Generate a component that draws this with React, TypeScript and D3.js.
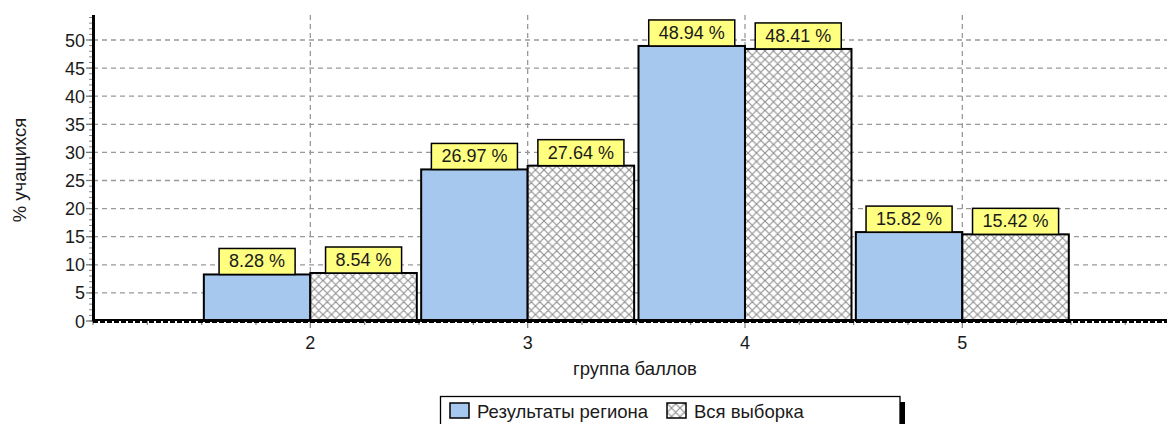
import React from "react";
import * as d3 from "d3";

const categories = [2, 3, 4, 5];
const regionValues = [8.28, 26.97, 48.94, 15.82];
const sampleValues = [8.54, 27.64, 48.41, 15.42];
const yTicks = [0, 5, 10, 15, 20, 25, 30, 35, 40, 45, 50];
const seriesNames = ["Результаты региона", "Вся выборка"];
const yTitle = "% учащихся";
const xTitle = "группа баллов";

const W = 1167;
const H = 424;
const FONT = "'Liberation Sans', Arial, sans-serif";

let ctx: CanvasRenderingContext2D | null = null;
function measure(t: string, size = 18) {
  if (!ctx) ctx = document.createElement("canvas").getContext("2d");
  if (!ctx) return t.length * size * 0.55;
  ctx.font = `${size}px 'Liberation Sans', Arial, sans-serif`;
  return ctx.measureText(t).width;
}

export default function App() {
  const x = d3.scaleLinear().domain([1, 6]).range([93, 93 + 5 * 217.33]);
  const y = d3.scaleLinear().domain([0, 50]).range([321, 40]);
  const yTop = y.invert(15);
  const bw = 217.33 * 0.49;
  const minorX = d3.range(1, 6.01, 0.25);
  const minorY = d3.range(0, Math.floor(yTop) + 1, 1);

  const label = (v: number, cx: number, key: string) => {
    const t = `${v.toFixed(2)} %`;
    const w = measure(t) + 20;
    const top = y(v);
    return (
      <g key={key}>
        <rect x={cx - w / 2} y={top - 26} width={w} height={26} fill="#ffff80" stroke="#000" strokeWidth={1.5} />
        <text x={cx} y={top - 7} textAnchor="middle" fontSize={18} fill="#1a1a1a">{t}</text>
      </g>
    );
  };

  return (
    <svg width={W} height={H} style={{ position: "absolute", left: 0, top: 0, background: "#fff" }} fontFamily={FONT}>
      <defs>
        <pattern id="hatch" patternUnits="userSpaceOnUse" width={8.5} height={8.5}>
          <rect width={8.5} height={8.5} fill="#fff" />
          <path d="M0,0 L8.5,8.5 M8.5,0 L0,8.5 M-1,7.5 L1,9.5 M7.5,-1 L9.5,1 M-1,1 L1,-1 M7.5,9.5 L9.5,7.5" stroke="#8f8f8f" strokeWidth={1.15} />
        </pattern>
      </defs>
      <rect width={W} height={H} fill="#fff" />
      {/* horizontal gridlines */}
      {yTicks.filter((t) => t > 0).map((t) => (
        <line key={"hg" + t} x1={93} x2={W} y1={y(t)} y2={y(t)} stroke="#999" strokeWidth={1.3} strokeDasharray="5,4" />
      ))}
      {/* vertical gridlines */}
      {categories.map((c) => (
        <line key={"vg" + c} x1={x(c)} x2={x(c)} y1={15} y2={321} stroke="#999" strokeWidth={1.3} strokeDasharray="5,4" />
      ))}
      {/* bars */}
      {categories.map((c, i) => (
        <g key={"b" + c}>
          <rect x={x(c) - bw} y={y(regionValues[i])} width={bw} height={y(0) - y(regionValues[i])} fill="#a6c8ee" stroke="#000" strokeWidth={2} />
          <rect x={x(c)} y={y(sampleValues[i])} width={bw} height={y(0) - y(sampleValues[i])} fill="url(#hatch)" stroke="#000" strokeWidth={2} />
        </g>
      ))}
      {categories.map((c, i) => label(regionValues[i], x(c) - bw / 2, "lr" + c))}
      {categories.map((c, i) => label(sampleValues[i], x(c) + bw / 2, "ls" + c))}
      {/* y axis */}
      {minorY.map((t) => (
        <line key={"my" + t} x1={89} x2={92} y1={y(t)} y2={y(t)} stroke="#888" strokeWidth={1} />
      ))}
      {yTicks.map((t) => (
        <g key={"yt" + t}>
          <line x1={86} x2={93} y1={y(t)} y2={y(t)} stroke="#777" strokeWidth={1.3} />
          <text x={85} y={y(t) + 6.5} textAnchor="end" fontSize={18} fill="#1a1a1a">{t}</text>
        </g>
      ))}
      <line x1={93.5} x2={93.5} y1={15} y2={322} stroke="#000" strokeWidth={3} />
      {/* x axis */}
      {minorX.map((t) => {
        const major = Math.abs(t - Math.round(t)) < 1e-6 && t >= 2 && t <= 5;
        return <line key={"mx" + t} x1={x(t)} x2={x(t)} y1={321} y2={major ? 328 : 325} stroke="#888" strokeWidth={1.3} />;
      })}
      <line x1={93} x2={W} y1={320} y2={320} stroke="#000" strokeWidth={2} />
      <line x1={93} x2={W} y1={322} y2={322} stroke="#000" strokeWidth={2} strokeDasharray="5,2" />
      {categories.map((c) => (
        <text key={"xt" + c} x={x(c)} y={349} textAnchor="middle" fontSize={18} fill="#1a1a1a">{c}</text>
      ))}
      <text x={635} y={375} textAnchor="middle" fontSize={18.5} fill="#1a1a1a">{xTitle}</text>
      <text transform="translate(26,170) rotate(-90)" textAnchor="middle" fontSize={18.5} fill="#1a1a1a">{yTitle}</text>
      {/* legend */}
      <rect x={900} y={402} width={5} height={30} fill="#000" />
      <rect x={440.5} y={396.5} width={459.5} height={40} fill="#fff" stroke="#000" strokeWidth={1.3} />
      <rect x={450} y={403} width={19} height={15} fill="#a6c8ee" stroke="#000" strokeWidth={1.5} />
      <text x={477} y={417.5} fontSize={18.5} fill="#1a1a1a">{seriesNames[0]}</text>
      <rect x={667} y={403} width={19} height={15} fill="url(#hatch)" stroke="#000" strokeWidth={1.5} />
      <text x={694} y={417.5} fontSize={18.5} fill="#1a1a1a">{seriesNames[1]}</text>
    </svg>
  );
}
